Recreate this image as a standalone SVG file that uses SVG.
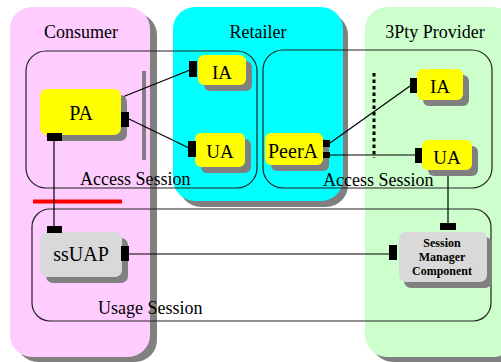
<svg xmlns="http://www.w3.org/2000/svg" width="501" height="362" viewBox="0 0 501 362">
<style>
.sh{fill:#808080}
.title{font-family:"Liberation Serif","Times New Roman",serif;font-size:18px;fill:#000;text-anchor:middle}
.lbl{font-family:"Liberation Serif","Times New Roman",serif;font-size:18px;fill:#000}
.nt{font-family:"Liberation Serif","Times New Roman",serif;font-size:20px;fill:#000;text-anchor:middle}
.smc{font-family:"Liberation Serif","Times New Roman",serif;font-size:12px;font-weight:bold;fill:#000;text-anchor:middle}
.y{fill:#ffff00}
.g{fill:#d9d9d9}
.port{fill:#000}
.sess{fill:none;stroke:#222;stroke-width:1.2}
.ln{stroke:#000;stroke-width:1.2;fill:none}
</style>
<g id="consumer">
<rect class="sh" x="16" y="13" width="141" height="349" rx="22"/>
<rect x="10" y="7" width="140" height="350" rx="22" fill="#ffccff"/>
<text class="title" x="81" y="38">Consumer</text>
</g>
<g id="retailer">
<rect class="sh" x="179" y="13" width="169" height="194" rx="22"/>
<rect x="173" y="7" width="170" height="194" rx="22" fill="#00ffff"/>
<text class="title" x="258" y="38">Retailer</text>
</g>
<g id="provider">
<rect class="sh" x="371" y="13" width="150" height="349" rx="22"/>
<rect x="365" y="7" width="150" height="350" rx="22" fill="#ccffcc"/>
<text class="title" x="435" y="38">3Pty Provider</text>
</g>
<g id="access-session-left">
<rect class="sess" x="26" y="51" width="231" height="137" rx="20"/>
<text class="lbl" x="80" y="185">Access Session</text>
</g>
<g id="access-session-right">
<rect class="sess" x="263" y="50" width="229" height="138" rx="20"/>
<text class="lbl" x="323" y="186">Access Session</text>
</g>
<g id="usage-session">
<rect class="sess" x="32" y="209" width="459" height="112" rx="18"/>
<text class="lbl" x="98" y="314">Usage Session</text>
</g>
<g id="separators">
<rect x="142" y="71" width="4" height="89" fill="#808080"/>
<line x1="374" y1="73" x2="374" y2="158" stroke="#000" stroke-width="3" stroke-dasharray="3.5,3"/>
<line x1="33" y1="201.5" x2="122" y2="201.5" stroke="#ff0000" stroke-width="4"/>
</g>
<g id="connectors">
<line class="ln" x1="120" y1="98" x2="190" y2="70"/>
<line class="ln" x1="129" y1="119" x2="189" y2="148"/>
<line class="ln" x1="54" y1="141" x2="54" y2="226"/>
<line class="ln" x1="129" y1="254" x2="389" y2="254"/>
<line class="ln" x1="330" y1="143" x2="410" y2="86"/>
<line class="ln" x1="330" y1="155" x2="415" y2="155"/>
<line class="ln" x1="448" y1="170" x2="448" y2="223"/>
</g>
<g id="PA">
<rect class="sh" x="46" y="95" width="81" height="46" rx="7"/>
<rect class="y" x="40" y="89" width="81" height="46" rx="7"/>
<text class="nt" x="81" y="120">PA</text>
<rect class="port" x="121" y="112" width="8" height="15"/>
<rect class="port" x="47" y="133" width="15" height="8"/>
</g>
<g id="IA-retailer">
<rect class="sh" x="204" y="61" width="48" height="30" rx="6"/>
<rect class="y" x="198" y="55" width="48" height="30" rx="6"/>
<text class="nt" x="222" y="79" style="font-size:19px">IA</text>
<rect class="port" x="189" y="61" width="8" height="16"/>
</g>
<g id="UA-retailer">
<rect class="sh" x="201" y="139" width="50" height="34" rx="6"/>
<rect class="y" x="195" y="133" width="50" height="34" rx="6"/>
<text class="nt" x="220" y="158" style="font-size:19px">UA</text>
<rect class="port" x="188" y="141" width="8" height="16"/>
</g>
<g id="PeerA">
<rect class="sh" x="271" y="139" width="58" height="32" rx="6"/>
<rect class="y" x="265" y="133" width="58" height="32" rx="6"/>
<text class="nt" x="293" y="158">PeerA</text>
<rect class="port" x="323" y="140" width="7" height="7"/>
<rect class="port" x="323" y="152" width="7" height="6"/>
</g>
<g id="IA-provider">
<rect class="sh" x="423" y="75" width="46" height="31" rx="6"/>
<rect class="y" x="417" y="69" width="46" height="31" rx="6"/>
<text class="nt" x="440" y="93" style="font-size:19px">IA</text>
<rect class="port" x="410" y="78" width="7" height="15"/>
</g>
<g id="UA-provider">
<rect class="sh" x="428" y="146" width="50" height="30" rx="6"/>
<rect class="y" x="422" y="140" width="50" height="30" rx="6"/>
<text class="nt" x="447" y="164" style="font-size:19px">UA</text>
<rect class="port" x="415" y="148" width="7" height="15"/>
</g>
<g id="ssUAP">
<rect class="sh" x="46" y="238" width="82" height="45" rx="7"/>
<rect class="g" x="40" y="232" width="82" height="45" rx="7"/>
<text class="nt" x="81" y="261">ssUAP</text>
<rect class="port" x="47" y="226" width="15" height="7"/>
<rect class="port" x="121" y="246" width="8" height="15"/>
</g>
<g id="SMC">
<rect class="sh" x="404" y="237" width="88" height="51" rx="7"/>
<rect class="g" x="399" y="232" width="88" height="50" rx="7"/>
<text class="smc" x="442" y="247">Session</text>
<text class="smc" x="442" y="261">Manager</text>
<text class="smc" x="442" y="275">Component</text>
<rect class="port" x="440" y="223" width="16" height="7"/>
<rect class="port" x="389" y="245" width="8" height="15"/>
</g>
</svg>
